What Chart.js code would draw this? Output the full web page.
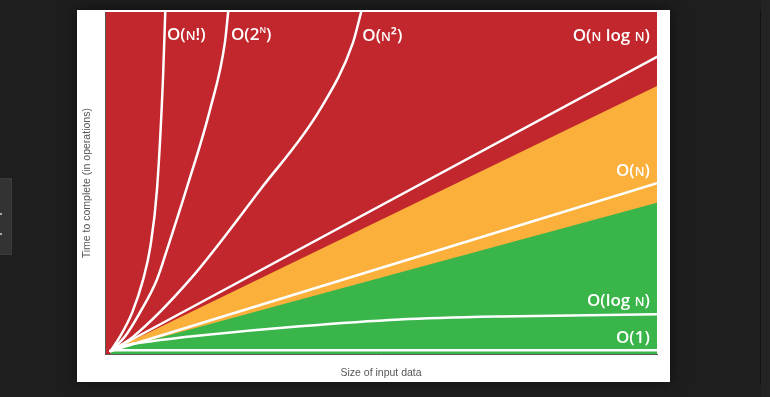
<!DOCTYPE html>
<html>
<head>
<meta charset="utf-8">
<script src="https://cdn.jsdelivr.net/npm/chart.js@4/dist/chart.umd.min.js"></script>
<style>
  html, body { margin: 0; padding: 0; }
  body { width: 770px; height: 397px; background: #1e1e1e; position: relative; overflow: hidden; }
  #panel { position: absolute; left: 77px; top: 10px; width: 593px; height: 372px; background: #fff;
           box-shadow: 0 0 14px rgba(0,0,0,0.55); }
  #side { position: absolute; left: 0; top: 178px; width: 12px; height: 77px; background: #333;
          border: 1px solid #3c3c3c; border-left: none; box-sizing: border-box; }
  #side span { position: absolute; left: 0; width: 2px; height: 2px; background: #aaa; }
  #rule { position: absolute; left: 760px; top: 10px; width: 1px; height: 375px; background: #131313; }
  #rightpane { position: absolute; left: 761px; top: 0; width: 9px; height: 397px; background: #232323; }
</style>
</head>
<body>
<div id="side"><span style="top:34px"></span><span style="top:54px"></span></div>
<div id="rule"></div>
<div id="rightpane"></div>
<div id="panel"><canvas id="chartBigO" width="593" height="372"></canvas></div>
<script>
// Colores de las zonas
const zoneColors = {
    bad: '#c1272d',
    fair: '#fbb03b',
    good: '#39b54a',
    curve: '#ffffff'
};

// Curvas (eje 0-100)
const factorialX = [1, 2.7, 4.9, 6.9, 8.2, 9.4, 10.5, 10.9];
const factorialY = [1, 5.2, 12.2, 21.9, 31.5, 48.1, 81, 100];

const expX = [1, 3.6, 6.3, 9.4, 11.4, 14.7, 19.0, 21.7, 22.3];
const expY = [1, 5.2, 12.2, 21.9, 31.5, 48.1, 71.4, 91, 100];

const quadX = [1, 5.1, 15.4, 28.1, 38.9, 44.9, 46.4];
const quadY = [1, 5.2, 21.9, 48.1, 71.4, 91, 100];

const nlognX = [1, 100];
const nlognY = [1, 86.9];

const linearX = [1, 100];
const linearY = [1, 50];

const logX = [1, 3.6, 8.2, 17.2, 35.3, 53.4, 71.6, 100];
const logY = [1, 2.6, 3.8, 5.5, 8.2, 10.2, 11.1, 11.7];

const constX = [1, 100];
const constY = [1.2, 1.2];

// Límites de las zonas
const badX = [0, 100];
const badY = [100, 100];
const fairX = [1, 100];
const fairY = [1, 78.4];
const goodX = [1, 100];
const goodY = [1, 44.3];

// Etiquetas: texto, posición en datos, alineación
const labelParts = [
    [['O(', 'n'], ['N', 's'], ['!)', 'n']],
    [['O(2', 'n'], ['N', 'x'], [')', 'n']],
    [['O(', 'n'], ['N', 's'], ['²)', 'n']],
    [['O(', 'n'], ['N', 's'], [' log ', 'n'], ['N', 's'], [')', 'n']],
    [['O(', 'n'], ['N', 's'], [')', 'n']],
    [['O(log ', 'n'], ['N', 's'], [')', 'n']],
    [['O(1)', 'n']]
];
const labelX = [11.2, 22.8, 46.6, 98.7, 98.7, 98.7, 98.7];
const labelY = [93.6, 93.6, 93.3, 93.3, 53.9, 16.0, 5.0];
const labelAlign = ['left', 'left', 'left', 'right', 'right', 'right', 'right'];

function puntos(xs, ys) {
    return xs.map((x, i) => ({ x: x, y: ys[i] }));
}

function curva(xs, ys, orden) {
    return {
        data: puntos(xs, ys),
        borderColor: zoneColors.curve,
        borderWidth: 2.5,
        borderCapStyle: 'round',
        pointRadius: 0,
        cubicInterpolationMode: 'monotone',
        fill: false,
        order: orden
    };
}

function zona(xs, ys, color, orden) {
    return {
        data: puntos(xs, ys),
        borderWidth: 0,
        borderColor: 'rgba(0,0,0,0)',
        backgroundColor: color,
        pointRadius: 0,
        fill: 'start',
        order: orden
    };
}

const fuenteEtiqueta = '"Open Sans", "Noto Sans", sans-serif';

// Plugin para dibujar las etiquetas O(...)
const etiquetasPlugin = {
    id: 'etiquetas',
    afterDatasetsDraw(chart) {
        const ctx = chart.ctx;
        const xs = chart.scales.x;
        const ys = chart.scales.y;
        ctx.save();
        ctx.fillStyle = '#fff';
        ctx.textBaseline = 'alphabetic';
        labelParts.forEach((parts, i) => {
            const px = xs.getPixelForValue(labelX[i]);
            const py = ys.getPixelForValue(labelY[i]) + 6;
            const segs = parts.map(p => {
                const size = p[1] === 'n' ? 17 : (p[1] === 's' ? 12.5 : 8.5);
                ctx.font = '600 ' + size + 'px ' + fuenteEtiqueta;
                return { t: p[0], k: p[1], size: size, w: ctx.measureText(p[0]).width };
            });
            const total = segs.reduce((s, g) => s + g.w, 0);
            let x = labelAlign[i] === 'right' ? px - total : px;
            segs.forEach(g => {
                ctx.font = '600 ' + g.size + 'px ' + fuenteEtiqueta;
                ctx.fillText(g.t, x, g.k === 'x' ? py - 7 : py);
                x += g.w;
            });
        });
        ctx.restore();
    }
};

const ctxBigO = document.getElementById('chartBigO').getContext('2d');
new Chart(ctxBigO, {
    type: 'line',
    data: {
        datasets: [
            curva(factorialX, factorialY, 0),
            curva(expX, expY, 0),
            curva(quadX, quadY, 0),
            curva(nlognX, nlognY, 0),
            curva(linearX, linearY, 0),
            curva(logX, logY, 0),
            curva(constX, constY, 0),
            zona(goodX, goodY, zoneColors.good, 5),
            zona(fairX, fairY, zoneColors.fair, 6),
            zona(badX, badY, zoneColors.bad, 7)
        ]
    },
    options: {
        responsive: false,
        animation: false,
        layout: {
            autoPadding: false,
            padding: { left: 0, right: 13, top: 2, bottom: 0 }
        },
        plugins: {
            legend: { display: false },
            tooltip: { enabled: false }
        },
        scales: {
            x: {
                type: 'linear',
                min: 0,
                max: 100,
                grid: { display: false, drawTicks: false },
                border: { display: true, color: '#5a5a5a', width: 1, z: 1 },
                ticks: { display: false },
                title: {
                    display: true,
                    text: 'Size of input data',
                    color: '#555',
                    font: { family: '"Liberation Sans", Arial, sans-serif', size: 10.5 },
                    padding: { top: 12, bottom: 3 }
                }
            },
            y: {
                type: 'linear',
                min: 0,
                max: 100,
                grid: { display: false, drawTicks: false },
                border: { display: true, color: '#5a5a5a', width: 1, z: 1 },
                ticks: { display: false },
                title: {
                    display: true,
                    text: 'Time to complete (in operations)',
                    color: '#555',
                    font: { family: '"Liberation Sans", Arial, sans-serif', size: 10.5 },
                    padding: { top: 4, bottom: 11.5 }
                }
            }
        }
    },
    plugins: [etiquetasPlugin]
});
</script>
</body>
</html>
